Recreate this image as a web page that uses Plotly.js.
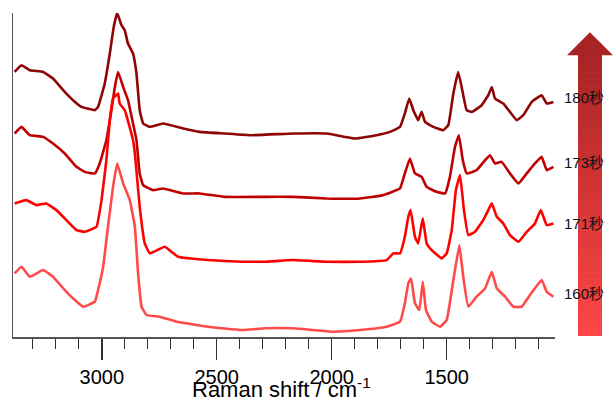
<!DOCTYPE html>
<html>
<head>
<meta charset="utf-8">
<script src="https://cdn.plot.ly/plotly-3.0.1.min.js"></script>
<style>
html,body{margin:0;padding:0;background:#fff;}
#chart{width:616px;height:403px;}
</style>
</head>
<body>
<div id="chart"></div>
<script>
// Series labels
const seriesLabels = ["180秒", "173秒", "171秒", "160秒"];
const seriesColors = ["#8e0505", "#c00000", "#ff0000", "#ff4a4a"];
const xTitle = "Raman shift / cm<sup>-1</sup>";

// Raman shift (cm^-1) and offset intensity (a.u.)
const shift180 = [3379,3349,3313,3255,3212,3161,3125,3088,3030,3016,2987,2965,2948,2933,2914,2900,2886,2864,2849,2835,2820,2791,2733,2646,2574,2465,2349,2168,2022,1899,1805,1747,1703,1682,1663,1645,1624,1609,1594,1558,1515,1493,1471,1450,1435,1413,1391,1348,1319,1304,1290,1254,1225,1195,1167,1130,1087,1065,1036];
const int180 = [265.3,272,267,265.3,258.7,245.3,237,230.3,227,230.3,253.7,283.7,310.3,324.3,312,307,293.7,283.7,263.7,227,213.7,210.3,213.7,208.7,205.3,203.7,202,203.7,203.7,198.7,202,205.3,210.3,223.7,238.7,227,217,225.3,215.3,210.3,207,212,243.7,265.3,250.3,227,225.3,232,242,250.3,238.7,233.7,225.3,217,222,235.3,242,233.7,235.3];

const shift173 = [3379,3349,3313,3255,3212,3161,3110,3074,3030,3009,2980,2958,2943,2929,2907,2886,2864,2849,2835,2820,2777,2733,2646,2574,2465,2291,2168,2022,1877,1776,1703,1682,1660,1638,1609,1587,1544,1507,1486,1464,1447,1430,1413,1370,1333,1312,1290,1261,1225,1188,1152,1116,1087,1065,1036];
const int173 = [203.7,210.3,202,200.3,193.7,183.7,170.3,165.3,163.7,173.7,197,227,250.3,265.3,250.3,237,213.7,197,163.7,152,147,148.7,143.7,143.7,140.3,140.3,140.3,138.7,138.7,142,148.7,163.7,178.7,163.7,160.3,150.3,145.3,143.7,160.3,190.3,202,177,163.7,167,177,182,173.7,175.3,163.7,153.7,163.7,173.7,180.3,167,170.3];

const shift171 = [3379,3328,3284,3241,3197,3154,3110,3074,3023,3001,2980,2965,2951,2929,2922,2900,2881,2864,2856,2835,2813,2791,2726,2668,2537,2392,2291,2168,2022,1877,1761,1732,1703,1682,1667,1657,1638,1624,1604,1587,1565,1522,1500,1478,1460,1442,1425,1406,1377,1341,1319,1304,1282,1254,1225,1188,1152,1116,1091,1065,1036];
const int171 = [133.7,137,132,133.7,127,117,107,105.3,110.3,137,177,217,238.7,243.7,233.7,227,212,197,183.7,130.3,93.7,83.7,90.3,80.3,77,75.3,75.3,77,75.3,75.3,77,83.7,83.7,100.3,120.3,127,100.3,93.7,118.7,93.7,87,78.7,83.7,107,147,162,127,102,105.3,117,127,133.7,120.3,113.7,102,95.3,105.3,113.7,127,112,113.7];

const shift160 = [3379,3349,3313,3255,3212,3161,3117,3081,3030,3016,2994,2973,2951,2933,2907,2878,2856,2842,2827,2805,2748,2675,2537,2392,2291,2168,1994,1877,1761,1703,1682,1667,1655,1638,1619,1604,1590,1565,1529,1500,1471,1445,1428,1406,1370,1333,1304,1282,1246,1210,1174,1138,1087,1065,1036];
const int160 = [63.7,70.3,60.3,67,60.3,47,37,30.3,35.3,47,70.3,110.3,150.3,173.7,153.7,137,110.3,63.7,30.3,22,20.3,15.3,10.3,7,8.7,8.7,5.3,7,10.3,15.3,33.7,53.7,58.7,33.7,27,55.3,27,15.3,10.3,17,57,92,60.3,30.3,40.3,48.7,65.3,48.7,40.3,30.3,30.3,42,57,45.3,40.3];

// Axis ticks
const majorTicks = [3000, 2500, 2000, 1500];
const majorTickLabels = ["3000", "2500", "2000", "1500"];

const xs = [shift180, shift173, shift171, shift160];
const ys = [int180, int173, int171, int160];

const traces = xs.map((x, i) => ({
  type: "scatter",
  mode: "lines",
  x: x,
  y: ys[i],
  name: seriesLabels[i],
  line: {color: seriesColors[i], width: 2.6, shape: "spline", smoothing: 0.3},
  hoverinfo: "skip"
}));

// Gradient arrow built from horizontal strips (paper coords, outside plot)
const shapes = [];
const shaftX0 = 1.0424, shaftX1 = 1.0867;
const shaftY0 = 0.003, shaftY1 = 0.8696;
const nStrips = 80;
function lerp(a, b, t) { return Math.round(a + (b - a) * t); }
const topRGB = [168, 36, 36], botRGB = [255, 70, 70];
for (let k = 0; k < nStrips; k++) {
  const t0 = k / nStrips, t1 = (k + 1) / nStrips;
  const t = (k + 0.5) / nStrips;
  const c = `rgb(${lerp(botRGB[0], topRGB[0], t)},${lerp(botRGB[1], topRGB[1], t)},${lerp(botRGB[2], topRGB[2], t)})`;
  shapes.push({
    type: "rect", xref: "paper", yref: "paper",
    x0: shaftX0, x1: shaftX1,
    y0: shaftY0 + (shaftY1 - shaftY0) * t0,
    y1: shaftY0 + (shaftY1 - shaftY0) * t1 + 0.002,
    fillcolor: c, line: {width: 0}, layer: "above"
  });
}
shapes.push({
  type: "path", xref: "paper", yref: "paper",
  path: "M 1.0221 0.8696 L 1.107 0.8696 L 1.0645 0.9405 Z",
  fillcolor: "rgb(168,36,36)", line: {width: 0}, layer: "above"
});

const labelY = [0.740, 0.5396, 0.3515, 0.1357];
const annotations = seriesLabels.map((s, i) => ({
  text: s, xref: "paper", yref: "paper", x: 1.0129, y: labelY[i],
  xanchor: "left", yanchor: "middle", showarrow: false,
  font: {size: 15, color: "#111", family: "Liberation Sans, Arial, Noto Sans CJK SC, sans-serif"}
}));
// x-axis title placed as an annotation so it can sit lower, like the reference
annotations.push({
  text: xTitle, xref: "paper", yref: "paper", x: 0.495, y: -0.2045,
  xanchor: "center", yanchor: "bottom", showarrow: false, borderpad: 0,
  font: {size: 22, color: "#000", family: "Liberation Sans, Arial, sans-serif"}
});

const layout = {
  width: 616, height: 403,
  margin: {l: 13, r: 61, t: 12.7, b: 66, pad: 0},
  paper_bgcolor: "#ffffff", plot_bgcolor: "#ffffff",
  showlegend: false,
  font: {family: "Liberation Sans, Arial, sans-serif", color: "#000"},
  xaxis: {
    range: [3386, 1029],
    showgrid: false, zeroline: false,
    showline: true, linecolor: "#555", linewidth: 1.5,
    ticks: "outside", ticklen: 21, tickwidth: 1.5, tickcolor: "#333",
    tickvals: majorTicks, ticktext: majorTickLabels,
    tickfont: {size: 20, family: "Liberation Sans, Arial, sans-serif", color: "#000"},
    minor: {dtick: 100, tick0: 1000, ticks: "outside", ticklen: 10, tickwidth: 1.2, tickcolor: "#333", showgrid: false},
    automargin: false
  },
  yaxis: {
    range: [0, 324.3],
    showgrid: false, zeroline: false,
    showline: true, linecolor: "#555", linewidth: 1.5,
    ticks: "", showticklabels: false,
    automargin: false
  },
  shapes: shapes,
  annotations: annotations
};

Plotly.newPlot("chart", traces, layout, {displayModeBar: false, staticPlot: true});
</script>
</body>
</html>
